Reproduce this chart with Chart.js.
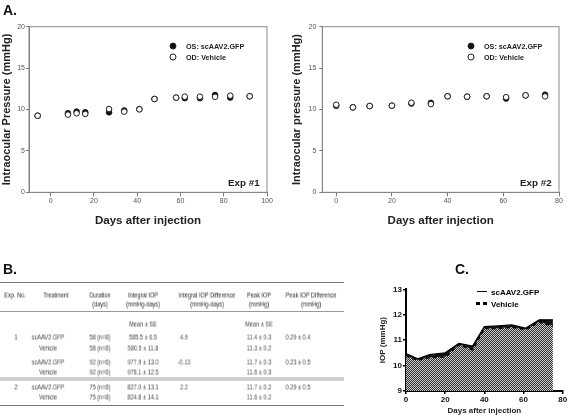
<!DOCTYPE html>
<html>
<head>
<meta charset="utf-8">
<script src="https://cdn.jsdelivr.net/npm/chart.js@4.4.0/dist/chart.umd.min.js"></script>
<style>
  body { margin: 0; width: 569px; height: 418px; position: relative; overflow: hidden; background: #fff;
         font-family: Arial, "Liberation Sans", sans-serif; }
  canvas { position: absolute; }
  .lbl { position: absolute; white-space: nowrap; transform: translateY(-50%); }
  .panel { font-weight: bold; font-size: 14px; color: #111; }
  .leg { font-weight: bold; font-size: 7.2px; color: #222; }
  .exp { font-weight: bold; font-size: 9.8px; color: #222; }
  .dot { position: absolute; width: 5px; height: 5px; border-radius: 50%; border: 1px solid #222;
         transform: translate(-50%, -50%); }
  .cell { position: absolute; white-space: nowrap; font-size: 7px; color: #444; will-change: transform;
          transform: translate(-50%, -50%) scaleX(0.8); }
  .cell.h { color: #2a2a2a; }
  .rule { position: absolute; left: 0; width: 344px; }
</style>
</head>
<body>
<canvas id="exp1" width="280" height="235" style="left:0;top:0"></canvas>
<canvas id="exp2" width="285" height="235" style="left:284px;top:0"></canvas>
<canvas id="panelC" width="197" height="143" style="left:372px;top:275px"></canvas>

<div class="lbl panel" style="left:3px;top:10px">A.</div>
<div class="lbl panel" style="left:3px;top:269px">B.</div>
<div class="lbl panel" style="left:455px;top:269px">C.</div>

<div class="dot" style="left:173px;top:46px;background:#111"></div>
<div class="lbl leg" style="left:186px;top:46px">OS: scAAV2.GFP</div>
<div class="dot" style="left:173px;top:57px;background:#fff"></div>
<div class="lbl leg" style="left:186px;top:57px">OD: Vehicle</div>
<div class="lbl exp" style="left:228px;top:182px">Exp #1</div>

<div class="dot" style="left:471px;top:46px;background:#111"></div>
<div class="lbl leg" style="left:484px;top:46px">OS: scAAV2.GFP</div>
<div class="dot" style="left:471px;top:57px;background:#fff"></div>
<div class="lbl leg" style="left:484px;top:57px">OD: Vehicle</div>
<div class="lbl exp" style="left:520px;top:182px">Exp #2</div>

<div style="position:absolute;left:477px;top:291px;width:10px;border-top:1.5px solid #000"></div>
<div class="lbl" style="left:491px;top:292px;font:bold 8px Arial,'Liberation Sans',sans-serif">scAAV2.GFP</div>
<div style="position:absolute;left:476px;top:302px;width:4px;height:3px;background:#000"></div>
<div style="position:absolute;left:483px;top:302px;width:4px;height:3px;background:#000"></div>
<div class="lbl" style="left:491px;top:304px;font:bold 8px Arial,'Liberation Sans',sans-serif">Vehicle</div>

<div id="table"></div>

<script>
// ── PANEL A: Exp #1 ───────────────────────────────────────────────
const exp1Days = [-6, 8, 12, 16, 27, 34, 41, 48, 58, 62, 69, 76, 83, 92];
const exp1OS = [9.25, 9.55, 9.74, 9.66, 9.66, 9.88, 10.04, 11.27, 11.43, 11.37, 11.37, 11.75, 11.45, 11.6];
const exp1OD = [9.25, 9.38, 9.54, 9.46, 10.06, 9.74, 10.02, 11.27, 11.43, 11.55, 11.55, 11.53, 11.67, 11.6];
const exp1XTicks = [0, 20, 40, 60, 80, 100];

// ── PANEL A: Exp #2 ───────────────────────────────────────────────
const exp2Days = [0, 6, 12, 20, 27, 34, 40, 47, 54, 61, 68, 75];
const exp2OS = [10.45, 10.26, 10.42, 10.46, 10.72, 10.8, 11.6, 11.55, 11.6, 11.33, 11.71, 11.79];
const exp2OD = [10.58, 10.26, 10.42, 10.46, 10.82, 10.65, 11.6, 11.55, 11.6, 11.49, 11.71, 11.59];
const exp2XTicks = [0, 20, 40, 60, 80];
const iopTicks = [0, 5, 10, 15, 20];

// ── PANEL C: area plot ────────────────────────────────────────────
const cDays = [0, 6, 12, 20, 27, 34, 40, 47, 54, 61, 68, 75];
const cGFP = [10.47, 10.27, 10.43, 10.5, 10.87, 10.77, 11.53, 11.56, 11.6, 11.47, 11.8, 11.8];
const cVehicle = [10.4, 10.22, 10.33, 10.35, 10.83, 10.64, 11.48, 11.47, 11.52, 11.43, 11.72, 11.57];
const cXTicks = [0, 20, 40, 60, 80];
const cYTicks = [9, 10, 11, 12, 13];

// ── PANEL B: table ────────────────────────────────────────────────
const tblHead1 = ['Exp. No.', 'Treatment', 'Duration', 'Integral IOP', 'Integral IOP Difference', 'Peak IOP', 'Peak  IOP Difference'];
const tblHead2 = ['', '', '(days)', '(mmHg-days)', '(mmHg-days)', '(mmHg)', '(mmHg)'];
const tblRows = [
  ['', '', '', 'Mean  ± SE', '', 'Mean  ± SE', ''],
  ['1', 'scAAV2.GFP', '58 (n=8)', '585.5 ± 6.5', '4.9', '11.4 ± 0.3', '0.29 ± 0.4'],
  ['', 'Vehicle', '58 (n=8)', '580.5 ± 11.8', '', '11.3 ± 0.2', ''],
  ['', 'scAAV2.GFP', '92 (n=6)', '977.9 ± 13.0', '-0.13', '11.7 ± 0.3', '0.23 ± 0.5'],
  ['', 'Vehicle', '92 (n=6)', '978.1 ± 12.5', '', '11.6 ± 0.3', ''],
  ['2', 'scAAV2.GFP', '75 (n=8)', '827.0 ± 13.1', '2.2', '11.7 ± 0.2', '0.29 ± 0.5'],
  ['', 'Vehicle', '75 (n=8)', '824.8 ± 14.1', '', '11.6 ± 0.2', ''],
];

const FONT = 'Arial, "Liberation Sans", sans-serif';

// layout for the table
const headX = [15, 56, 100, 143, 207, 259, 311];
const cellX = [15.5, 48, 100, 143, 184, 259, 298];
const rowY = [324, 337.3, 348.3, 361.7, 372.3, 386.7, 397.3];

function buildTable() {
  const t = document.getElementById('table');
  let html = '';
  const put = (txt, x, y, cls) => {
    if (txt) html += `<div class="cell ${cls}" style="left:${x}px;top:${y}px">${txt}</div>`;
  };
  tblHead1.forEach((h, i) => put(h, headX[i], 295, 'h'));
  tblHead2.forEach((h, i) => put(h, headX[i], 303.5, 'h'));
  tblRows.forEach((r, j) => r.forEach((c, i) => put(c, cellX[i], rowY[j], '')));
  html += '<div class="rule" style="top:281.5px;border-top:1.6px solid #777"></div>';
  html += '<div class="rule" style="top:310.5px;border-top:1px solid #999"></div>';
  html += '<div class="rule" style="top:377px;height:4px;background:#cfcfcf"></div>';
  html += '<div class="rule" style="top:405px;border-top:1.6px solid #777"></div>';
  t.innerHTML = html;
}
buildTable();

// ── helpers ───────────────────────────────────────────────────────
const boxBorder = {
  id: 'boxBorder',
  afterDraw(chart) {
    const { ctx, chartArea: a } = chart;
    ctx.save();
    ctx.strokeStyle = '#8a8a8a';
    ctx.lineWidth = 1;
    ctx.strokeRect(a.left, a.top, a.right - a.left, a.bottom - a.top);
    ctx.restore();
  }
};

const pts = (xs, ys) => xs.map((x, i) => ({ x, y: ys[i] }));
const setTicks = list => scale => { scale.ticks = list.map(v => ({ value: v })); };

function scatterChart(id, days, os, od, xMin, xMax, xTicks, yTitle, cfg) {
  return new Chart(document.getElementById(id), {
    type: 'scatter',
    data: {
      datasets: [
        { label: 'OS: scAAV2.GFP', data: pts(days, os), pointRadius: 2.8,
          backgroundColor: '#111', borderColor: '#111', borderWidth: 1, order: 2 },
        { label: 'OD: Vehicle', data: pts(days, od), pointRadius: 2.8,
          backgroundColor: '#fff', borderColor: '#222', borderWidth: 1, order: 1 },
      ]
    },
    options: {
      responsive: false,
      animation: false,
      events: [],
      layout: { padding: { left: 0, top: 26.7, right: cfg.padRight, bottom: 4 } },
      plugins: { legend: { display: false }, tooltip: { enabled: false } },
      scales: {
        x: {
          type: 'linear', min: xMin, max: xMax,
          afterBuildTicks: setTicks(xTicks),
          afterFit: s => { s.height = 38.7; },
          border: { color: '#777' },
          grid: { drawOnChartArea: false, drawTicks: true, tickLength: 4, color: '#777' },
          ticks: { color: '#555', padding: 1, font: { family: FONT, size: 7 } },
          title: { display: true, text: 'Days after injection', color: '#222', padding: { top: 0, bottom: 3.4 },
                   font: { family: FONT, size: 11.5, weight: 'bold' } }
        },
        y: {
          min: 0, max: 20,
          afterBuildTicks: setTicks(iopTicks),
          afterFit: s => { s.width = cfg.yWidth; },
          border: { color: '#777' },
          grid: { drawOnChartArea: false, drawTicks: true, tickLength: 3, color: '#777' },
          ticks: { color: '#555', padding: cfg.tickPad, font: { family: FONT, size: 7 } },
          title: { display: true, text: yTitle, color: '#222', padding: { top: cfg.titlePad, bottom: 0 },
                   font: { family: FONT, size: 11, weight: 'bold' } }
        }
      }
    },
    plugins: [boxBorder]
  });
}

scatterChart('exp1', exp1Days, exp1OS, exp1OD, -10, 100, exp1XTicks, 'Intraocular Pressure (mmHg)',
  { padRight: 13, yWidth: 29, tickPad: 1, titlePad: 0.4 });
scatterChart('exp2', exp2Days, exp2OS, exp2OD, -5, 80, exp2XTicks, 'Intraocular pressure (mmHg)',
  { padRight: 10, yWidth: 38.3, tickPad: 3, titlePad: 6.7 });

// ── PANEL C ───────────────────────────────────────────────────────
const pc = document.createElement('canvas');
pc.width = 2; pc.height = 2;
const pctx = pc.getContext('2d');
pctx.fillStyle = '#cdcdcd'; pctx.fillRect(0, 0, 2, 2);
pctx.fillStyle = '#2e2e2e'; pctx.fillRect(0, 0, 1, 1); pctx.fillRect(1, 1, 1, 1);
const checker = pctx.createPattern(pc, 'repeat');

new Chart(document.getElementById('panelC'), {
  type: 'line',
  data: {
    datasets: [
      { label: 'scAAV2.GFP', data: pts(cDays, cGFP), borderColor: '#000', borderWidth: 1.2,
        pointRadius: 0, tension: 0, fill: { target: 1, above: '#111', below: '#111' } },
      { label: 'Vehicle', data: pts(cDays, cVehicle), borderColor: '#000', borderWidth: 2.2,
        borderDash: [4, 3], pointRadius: 0, tension: 0, backgroundColor: checker, fill: 'start' },
    ]
  },
  options: {
    responsive: false,
    animation: false,
    events: [],
    layout: { padding: { left: 0, top: 14.3, right: 6.3, bottom: 0 } },
    plugins: { legend: { display: false }, tooltip: { enabled: false } },
    scales: {
      x: {
        type: 'linear', min: 0, max: 80,
        afterBuildTicks: setTicks(cXTicks),
        afterFit: s => { s.height = 27; },
        border: { color: '#000', width: 2 },
        grid: { drawOnChartArea: false, drawTicks: true, tickLength: 3, color: '#000', lineWidth: 1.5 },
        ticks: { color: '#111', padding: 1.2, font: { family: FONT, size: 8, weight: 'bold' } },
        title: { display: true, text: 'Days after injection', color: '#222', padding: { top: 0, bottom: 2.2 },
                 font: { family: FONT, size: 8, weight: 'bold' } }
      },
      y: {
        min: 9, max: 13,
        afterBuildTicks: setTicks(cYTicks),
        afterFit: s => { s.width = 34; },
        border: { color: '#000', width: 2 },
        grid: { drawOnChartArea: false, drawTicks: true, tickLength: 3, color: '#000', lineWidth: 1.5 },
        ticks: { color: '#111', padding: 1, font: { family: FONT, size: 8, weight: 'bold' } },
        title: { display: true, text: 'IOP (mmHg)', color: '#222', padding: { top: 6.2, bottom: 0 },
                 font: { family: FONT, size: 8, weight: 'bold' } }
      }
    }
  }
});
</script>
</body>
</html>
